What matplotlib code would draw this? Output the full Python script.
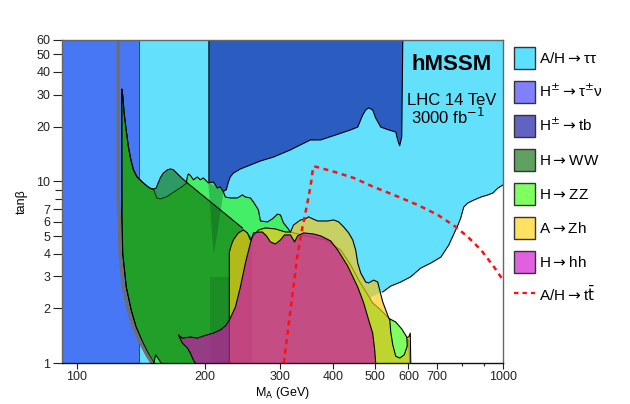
import numpy as np
import matplotlib
matplotlib.use('Agg')
import matplotlib.pyplot as plt
from matplotlib.patches import Patch
from matplotlib.lines import Line2D
from matplotlib.ticker import FixedLocator, FixedFormatter, NullFormatter

plt.rcParams['font.family'] = ['Liberation Sans', 'DejaVu Sans']
plt.rcParams['mathtext.fontset'] = 'dejavusans'

# ---------------- data (M_A in GeV, tan beta) ----------------
# A/H -> tautau : visible lower-right edge, plus closing corners
tautau_edge_m = [1000, 973, 947, 922, 888, 855, 827, 809, 796, 784, 746, 715, 677, 641, 607, 575, 545, 522]
tautau_edge_tb = [9.55, 9.19, 8.63, 8.42, 8.20, 7.90, 7.60, 7.23, 6.30, 5.75, 4.46, 3.83, 3.55, 3.33, 2.98, 2.79, 2.65, 2.46]
tautau_close_m = [490, 470, 139.5, 139.5, 1000]
tautau_close_tb = [2.31, 1.0, 1.0, 60, 60]

# H+- -> tau nu
taunu_m = [90, 139.5, 139.5, 90]
taunu_tb = [1, 1, 60, 60]

# H+- -> tb (high tan beta)
tbh_m = [204, 204, 208.9, 215.8, 219.4, 224.2, 226.6, 229.1, 232.8, 241.8, 255.3, 269.5, 289, 317, 353, 373,
         404.7, 438.9, 456, 468.5, 476, 484, 494.4, 502.5, 516.4, 539, 560, 566, 572, 578.5, 581.7]
tbh_tb = [60, 9.9, 9.55, 9.0, 8.74, 9.0, 9.9, 10.6, 11.1, 11.7, 12.3, 12.95, 13.6, 14.9, 16.9, 16.9,
          18.0, 19.2, 19.9, 23.2, 24.7, 25.4, 24.7, 22.3, 19.9, 19.2, 18.7, 16.9, 15.7, 17.6, 60]
# H+- -> tb narrow dip and low tan beta block
tbspike_m = [203.4, 205.6, 207.8, 209.3, 212.3, 215.8, 219.4, 220.6]
tbspike_tb = [9.8, 6.96, 4.88, 4.02, 4.76, 6.13, 7.90, 8.97]
tblow_m = [205.6, 227.8, 227.8, 205.6]
tblow_tb = [1.0, 1.0, 2.98, 2.98]

# H -> ZZ
zz_edge_m = [151.5, 147.5, 142.8, 137.6, 134.0, 130.5, 128.0, 127.5, 127.4, 127.4,
             128.1, 129.0, 130.4, 132.0, 133.8, 135.7, 138.2, 142.0, 145.9, 148.5, 151.2,
             154.0, 156.8, 159.4, 162.6, 167.0, 171.6, 176.4, 180.5, 181.5, 182.5, 184.5, 187.5,
             191.6, 194.7, 197.9, 203.4, 208.9, 213.5, 217.0, 220.6, 223.0, 229.1, 237.9, 244.5,
             248.5, 255.3, 259.5, 266.6, 269.5, 279.9, 287.6, 295.5, 300.3, 305.3, 312.0, 317.1,
             344.0, 383.2, 415.8, 438.9, 458.4, 478.6, 494.4, 516.4, 539.2, 560.1, 584.8, 600.9, 604.2]
zz_edge_tb = [1.0, 1.11, 1.29, 1.58, 1.96, 2.62, 4.03, 6.13, 20.0, 32.2,
              29.3, 23.7, 19.2, 15.5, 13.1, 11.55, 10.6, 9.96, 9.43, 9.16, 9.05,
              8.10, 8.00, 8.10, 8.24, 8.60, 8.97, 9.35, 9.76, 10.57, 10.98, 10.8, 10.2,
              10.57, 10.2, 10.44, 9.8, 9.92, 9.19, 9.31, 8.74, 8.20, 8.10, 8.10, 8.42,
              8.20, 8.10, 7.70, 6.96, 6.05, 5.98, 6.22, 6.60, 6.53, 5.90, 5.54, 5.26,
              5.01, 4.76, 4.19, 3.46, 2.86, 2.43, 2.14, 1.96, 1.77, 1.52, 1.37, 1.34, 1.0]
zz_lens_m = [542.1, 560.1, 578.5, 594.4, 596.1, 586.4, 572.3, 560.1, 551.0, 545.1]
zz_lens_tb = [1.75, 1.68, 1.54, 1.39, 1.24, 1.11, 1.065, 1.09, 1.26, 1.48]

# H -> WW
ww_edge_m = [157.5, 153.0, 151.5, 147.5, 142.8, 137.6, 134.0, 130.5, 128.0, 127.5, 127.4, 127.4,
             128.1, 129.0, 130.4, 132.0, 133.8, 135.7, 138.2, 142.0, 145.9, 148.5, 151.2,
             153.4, 155.1, 156.8, 159.4, 162.8, 165.5, 168.2, 171.6, 176.4, 181.2, 244.5]
ww_edge_tb = [1.0, 1.11, 1.0, 1.11, 1.29, 1.58, 1.96, 2.62, 4.03, 6.13, 20.0, 32.2,
              29.3, 23.7, 19.2, 15.5, 13.1, 11.55, 10.6, 9.96, 9.43, 9.16, 9.05,
              9.19, 9.80, 10.44, 11.1, 11.55, 11.7, 11.6, 11.08, 10.4, 9.84, 5.54]
ww_close_m = [258.0, 258.0]
ww_close_tb = [4.9, 1.0]

# A -> Zh
zh_m = [227.8, 227.8, 230.3, 232.8, 239.2, 245.8, 251.2, 255.3, 259.5, 266.6, 276.9, 292.3, 308.6,
        317.1, 322.3, 334.8, 344.0, 349.6, 357.3, 367.1, 387.5, 400.4, 411.4, 422.7, 434.3, 443.8,
        451.0, 456.0, 463.4, 476.1, 483.9, 497.1, 508.0, 513.5, 522.0, 530.5, 539.2, 551.0, 569.2,
        584.8, 600.9, 605.8, 607.4]
zh_tb = [1.0, 4.08, 4.46, 4.76, 5.20, 5.40, 5.20, 4.76, 5.01, 5.40, 5.54, 5.47, 5.26,
         5.26, 5.75, 6.13, 6.22, 6.38, 6.22, 6.05, 6.05, 6.13, 5.98, 5.61, 5.20, 4.76,
         4.19, 3.55, 3.13, 2.79, 2.76, 2.86, 2.79, 2.52, 2.17, 1.96, 1.77, 1.62, 1.46,
         1.37, 1.39, 1.46, 1.0]

# H -> hh
hh_m = [189.5, 187.5, 184.5, 181.5, 176.6, 172.9, 176.6, 184.5, 191.6, 194.7, 202.3, 208.9, 217.0,
        223.0, 227.8, 235.4, 241.8, 248.5, 255.3, 259.5, 266.6, 272.4, 278.4, 284.5, 292.3, 300.3,
        307.0, 317.1, 324.1, 329.4, 340.3, 359.2, 373.1, 393.9, 409.1, 431.9, 456.0, 471.0, 483.9,
        494.4, 499.8, 502.5]
hh_tb = [1.0, 1.04, 1.135, 1.21, 1.29, 1.43, 1.37, 1.39, 1.37, 1.39, 1.43, 1.46, 1.52,
         1.60, 1.72, 2.03, 2.62, 3.55, 4.58, 5.20, 5.26, 5.26, 5.01, 4.64, 4.52, 4.76,
         5.07, 5.07, 4.64, 5.01, 5.20, 5.13, 5.01, 4.70, 4.19, 3.42, 2.62, 2.14, 1.72,
         1.46, 1.18, 1.0]

# A/H -> tt expected limit
tt_m = [305.8, 317.1, 328.8, 337.9, 344.0, 349.6, 355.3, 358.2, 363.1, 400.4, 446.2, 497.1, 554.0,
        631, 703.2, 775.3, 827.4, 888, 952.5, 1000]
tt_tb = [1.0, 1.96, 3.83, 5.54, 6.78, 8.20, 10.2, 12.0, 12.05, 11.31, 10.44, 9.31, 8.42,
         7.41, 6.53, 5.61, 4.94, 4.19, 3.38, 2.86]

# boundary of the allowed hMSSM region
lim_m = [124.9, 124.9, 125.7, 126.2, 128.5, 132.0, 135.7, 141.0, 145.9, 150.0]
lim_tb = [60, 8.0, 6.13, 4.03, 2.62, 1.96, 1.58, 1.29, 1.11, 1.0]

x_ticks = [100, 200, 300, 400, 500, 600, 700, 1000]
x_labels = ['100', '200', '300', '400', '500', '600', '700', '1000']
x_minor = [800, 900]
y_ticks = [1, 2, 3, 4, 5, 6, 7, 10, 20, 30, 40, 50, 60]
y_minor = [8, 9]

ARW = '$\\rightarrow$'
legend_labels = ['A/H' + ARW + '\u03c4\u03c4',
                 'H$^{\\pm}$' + ARW + '\u03c4$^{\\pm}$\u03bd',
                 'H$^{\\pm}$' + ARW + 'tb',
                 'H' + ARW + 'WW', 'H' + ARW + 'ZZ', 'A' + ARW + 'Zh', 'H' + ARW + 'hh',
                 'A/H' + ARW + 't$\\bar{\\mathrm{t}}$']
legend_colors = ['#5de0fc', '#8080ff', '#6262c2', '#60a060', '#80ff60', '#ffe060', '#e060e0']

# ---------------- figure ----------------
fig = plt.figure(figsize=(6.3, 4.04), dpi=100)
ax = fig.add_axes([62/630, 1-363/404, 441/630, 323/404])
ax.set_xscale('log')
ax.set_yscale('log')
ax.set_xlim(92.2, 1000)
ax.set_ylim(1, 60)


def region(m_edge, t_edge, m_close, t_close, color, alpha, z, lw=0.8, ec='k'):
    m = list(m_edge) + list(m_close)
    t = list(t_edge) + list(t_close)
    ax.fill(m, t, color=color, alpha=alpha, lw=0, zorder=z)
    if lw > 0:
        ax.plot(m_edge, t_edge, color=ec, lw=lw, zorder=z + 0.5, solid_joinstyle='round')


region(tautau_edge_m, tautau_edge_tb, tautau_close_m, tautau_close_tb, '#62e0fc', 1.0, 1)
ax.fill(taunu_m, taunu_tb, color='#4877f5', lw=0, zorder=2)
ax.plot(taunu_m[1:3], taunu_tb[1:3], color='#1a2f60', lw=0.6, zorder=2.5)
region(tbh_m, tbh_tb, [], [], '#2b5cc0', 1.0, 3)
region(zz_edge_m, zz_edge_tb, [], [], '#44ee66', 1.0, 4)
region(ww_edge_m, ww_edge_tb, ww_close_m, ww_close_tb, '#0b6b00', 0.6, 5)
ax.fill(tbspike_m, tbspike_tb, color='#003c1e', alpha=0.28, lw=0, zorder=6)
ax.fill(tblow_m, tblow_tb, color='#002010', alpha=0.15, lw=0, zorder=6)
region(zh_m, zh_tb, [], [], '#ffc911', 0.65, 7)
region(hh_m, hh_tb, [], [], '#c814aa', 0.7, 8)
ax.fill(zz_lens_m, zz_lens_tb, facecolor='#80ff60', edgecolor='k', lw=0.8, zorder=9)
ax.plot(lim_m, lim_tb, color='#6e6e6e', lw=2.4, zorder=10, solid_capstyle='butt')
ax.plot(tt_m, tt_tb, color='#ff1010', lw=1.8, ls=(0, (2, 1.8)), zorder=11)

# ---------------- axes styling ----------------
ax.xaxis.set_major_locator(FixedLocator(x_ticks))
ax.xaxis.set_major_formatter(FixedFormatter(x_labels))
ax.xaxis.set_minor_locator(FixedLocator(x_minor))
ax.xaxis.set_minor_formatter(NullFormatter())
ax.yaxis.set_major_locator(FixedLocator(y_ticks))
ax.yaxis.set_major_formatter(FixedFormatter([str(v) for v in y_ticks]))
ax.yaxis.set_minor_locator(FixedLocator(y_minor))
ax.yaxis.set_minor_formatter(NullFormatter())
ax.tick_params(axis='both', which='both', direction='out', labelsize=9, colors='#222222', width=0.8)
ax.tick_params(axis='y', which='major', length=6.5, pad=2)
ax.tick_params(axis='y', which='minor', length=5)
ax.tick_params(axis='x', which='major', length=4.5, pad=1.5)
ax.tick_params(axis='x', which='minor', length=2.5)
for s in ['left', 'top', 'right']:
    ax.spines[s].set_color('#666666')
    ax.spines[s].set_linewidth(1.0)
ax.spines['bottom'].set_color('#111111')
ax.spines['bottom'].set_linewidth(1.0)
for s in ax.spines.values():
    s.set_zorder(20)

ax.set_xlabel('M$_{\\mathrm{A}}$ (GeV)', fontsize=9, labelpad=1)
ax.set_ylabel('tan\u03b2', fontsize=9, labelpad=6)

ax.text(0.884, 0.923, 'hMSSM', transform=ax.transAxes, ha='center', va='center',
        fontsize=16, fontweight='bold', zorder=30)
ax.text(0.884, 0.814, 'LHC 14 TeV', transform=ax.transAxes, ha='center', va='center',
        fontsize=12, zorder=30)
ax.text(0.876, 0.762, '3000 fb$^{-1}$', transform=ax.transAxes, ha='center', va='center',
        fontsize=12, zorder=30)

handles = [Patch(facecolor=c, edgecolor='#333333', lw=1.0) for c in legend_colors]
handles.append(Line2D([0], [0], color='#ff1010', lw=1.6, ls=(0, (2, 1.8))))
fs = 11
fig.legend(handles, legend_labels, loc='upper left', bbox_to_anchor=(514/630, 1-47/404),
           frameon=False, fontsize=fs, borderpad=0, borderaxespad=0,
           handlelength=21/(fs*100/72), handleheight=28/(fs*100/72),
           labelspacing=12/(fs*100/72), handletextpad=4/(fs*100/72))

fig.savefig('out.png', dpi=100)
